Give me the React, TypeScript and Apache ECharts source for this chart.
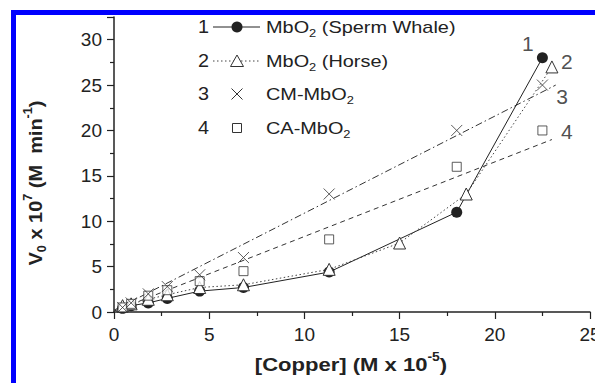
import React, { useEffect, useRef } from "react";
import * as echarts from "echarts";

// Initial rate of MbO2 oxidation vs. copper concentration
const copperWhale = [0.45, 0.9, 1.8, 2.8, 4.5, 6.8, 11.3, 18, 22.5];
const rateWhale = [0.4, 0.7, 1.0, 1.5, 2.3, 2.7, 4.4, 11, 28];

const copperHorse = [0.45, 0.9, 1.8, 2.8, 4.5, 6.8, 11.3, 15, 18.5, 23];
const rateHorse = [0.7, 0.9, 1.4, 1.9, 2.7, 3.0, 4.7, 7.6, 13, 27];

const copperCM = [0.45, 0.9, 1.8, 2.8, 4.5, 6.8, 11.3, 18, 22.5];
const rateCM = [0.5, 1.0, 2.0, 2.8, 4.1, 6.0, 13, 20, 25];

const copperCA = [0.45, 0.9, 1.8, 2.8, 4.5, 6.8, 11.3, 18, 22.5];
const rateCA = [0.5, 0.9, 1.8, 2.4, 3.4, 4.5, 8, 16, 20];

// straight-line fits for the modified proteins
const fitCMx = [0, 23.2];
const fitCMy = [0.2, 25.0];
const fitCAx = [0, 23];
const fitCAy = [0.1, 19];

// curve numbers placed next to the curve ends (data coordinates)
const tagText = ["1", "2", "3", "4"];
const tagX = [21.74, 23.78, 23.53, 23.79];
const tagY = [29.6, 27.6, 23.7, 19.9];

const xTicks = [0, 5, 10, 15, 20, 25];
const yTicks = [0, 5, 10, 15, 20, 25, 30];
const yTop = 32.5;

const legendNames = [
  "{n|MbO}{s|2}{n| (Sperm Whale)}",
  "{n|MbO}{s|2}{n| (Horse)}",
  "{n|CM-MbO}{s|2}",
  "{n|CA-MbO}{s|2}",
];

const FONT = "'Liberation Sans', Arial, sans-serif";
const INK = "#222";

const zip = (xs: number[], ys: number[]) => xs.map((x, i) => [x, ys[i]]);

const crossPath = "path://M0,0L10,10M10,0L0,10";

function legendGraphics() {
  const rows = [27, 61, 94, 128];
  const out: any[] = [];
  const sx = 237;
  rows.forEach((y, i) => {
    out.push({
      type: "text",
      x: 198,
      y,
      scaleX: 1.1,
      style: {
        text: tagText[i],
        fontFamily: FONT,
        fontSize: 18,
        fill: INK,
        align: "left",
        verticalAlign: "middle",
      },
    });
    out.push({
      type: "text",
      x: 266,
      y,
      scaleX: 1.17,
      style: {
        text: legendNames[i],
        align: "left",
        verticalAlign: "middle",
        fill: INK,
        rich: {
          n: { fontFamily: FONT, fontSize: 17, lineHeight: 24, fill: INK },
          s: {
            fontFamily: FONT,
            fontSize: 11,
            lineHeight: 11,
            verticalAlign: "bottom",
            fill: INK,
          },
        },
      },
    });
  });
  // row 1: solid line with filled circle
  out.push({
    type: "line",
    shape: { x1: 213, y1: rows[0], x2: 260, y2: rows[0] },
    style: { stroke: INK, lineWidth: 1 },
  });
  out.push({
    type: "circle",
    shape: { cx: sx, cy: rows[0], r: 5.5 },
    style: { fill: INK },
  });
  // row 2: dotted line with open triangle
  out.push({
    type: "line",
    shape: { x1: 213, y1: rows[1], x2: 260, y2: rows[1] },
    style: { stroke: "#444", lineWidth: 1, lineDash: [1.5, 2.5] },
  });
  out.push({
    type: "polygon",
    shape: {
      points: [
        [sx, rows[1] - 6],
        [sx - 6.5, rows[1] + 5.5],
        [sx + 6.5, rows[1] + 5.5],
      ],
    },
    style: { fill: "#fff", stroke: "#333", lineWidth: 1 },
  });
  // row 3: cross
  out.push({
    type: "line",
    shape: { x1: sx - 5.5, y1: rows[2] - 5.5, x2: sx + 5.5, y2: rows[2] + 5.5 },
    style: { stroke: "#333", lineWidth: 1 },
  });
  out.push({
    type: "line",
    shape: { x1: sx + 5.5, y1: rows[2] - 5.5, x2: sx - 5.5, y2: rows[2] + 5.5 },
    style: { stroke: "#333", lineWidth: 1 },
  });
  // row 4: open square
  out.push({
    type: "rect",
    shape: { x: sx - 4.5, y: rows[3] - 4.5, width: 9, height: 9 },
    style: { fill: "#fff", stroke: "#333", lineWidth: 1 },
  });
  return out;
}

function titleGraphics() {
  const richBold = {
    b: { fontFamily: FONT, fontWeight: "bold", fontSize: 19, lineHeight: 26, fill: INK },
    bs: {
      fontFamily: FONT,
      fontWeight: "bold",
      fontSize: 12,
      lineHeight: 12,
      verticalAlign: "bottom",
      fill: INK,
    },
    bp: {
      fontFamily: FONT,
      fontWeight: "bold",
      fontSize: 12,
      lineHeight: 12,
      verticalAlign: "top",
      fill: INK,
    },
  };
  return [
    {
      type: "text",
      x: 351,
      y: 364,
      scaleX: 1.16,
      style: {
        text: "{b|[Copper] (M x 10}{bp|-5}{b|)}",
        align: "center",
        verticalAlign: "middle",
        rich: richBold,
      },
    },
    {
      type: "text",
      x: 35,
      y: 183,
      rotation: Math.PI / 2,
      scaleX: 1.05,
      style: {
        text: "{b|V}{bs|0}{b| x 10}{bp|7}{b| (M  min}{bp|-1}{b|)}",
        align: "center",
        verticalAlign: "middle",
        rich: richBold,
      },
    },
  ];
}

function frameGraphics() {
  return [
    { type: "rect", shape: { x: 11, y: 10, width: 600, height: 5 }, style: { fill: "#0000ff" } },
    { type: "rect", shape: { x: 11, y: 10, width: 5, height: 400 }, style: { fill: "#0000ff" } },
  ];
}

const axisCommon = {
  axisLine: { show: true, lineStyle: { color: INK, width: 1.5 } },
  axisTick: { show: true, inside: false, length: 7, lineStyle: { color: INK, width: 1.2 } },
  minorTick: { show: true, splitNumber: 2, length: 4, lineStyle: { color: INK, width: 1.2 } },
  splitLine: { show: false },
};

export default function App() {
  const ref = useRef<HTMLDivElement>(null);

  useEffect(() => {
    if (!ref.current) return;
    const chart = echarts.init(ref.current, null, { renderer: "svg" });
    chart.setOption({
      animation: false,
      backgroundColor: "#fff",
      grid: {
        left: 114,
        right: 5,
        top: 17,
        bottom: 71,
        containLabel: false,
        outerBoundsMode: "none",
      },
      xAxis: {
        type: "value",
        min: xTicks[0],
        max: xTicks[xTicks.length - 1],
        interval: xTicks[1] - xTicks[0],
        ...axisCommon,
        axisLabel: {
          margin: 13,
          fontFamily: FONT,
          fontSize: 19,
          color: INK,
          showMaxLabel: true,
          hideOverlap: false,
        },
      },
      yAxis: {
        type: "value",
        min: yTicks[0],
        max: yTop,
        interval: yTicks[1] - yTicks[0],
        ...axisCommon,
        axisLabel: {
          margin: 12,
          fontFamily: FONT,
          fontSize: 19,
          color: INK,
          formatter: (v: number) => (yTicks.includes(v) ? String(v) : ""),
        },
      },
      series: [
        {
          name: "CA-MbO2 fit",
          type: "line",
          data: zip(fitCAx, fitCAy),
          symbol: "none",
          lineStyle: { color: "#333", width: 1, type: [5, 4] },
          z: 1,
        },
        {
          name: "CM-MbO2 fit",
          type: "line",
          data: zip(fitCMx, fitCMy),
          symbol: "none",
          lineStyle: { color: "#333", width: 1, type: [7, 3, 1.5, 3] },
          z: 1,
        },
        {
          name: "MbO2 (Sperm Whale)",
          type: "line",
          data: zip(copperWhale, rateWhale),
          symbol: "circle",
          symbolSize: 11,
          itemStyle: { color: INK },
          lineStyle: { color: INK, width: 1 },
          z: 2,
        },
        {
          name: "MbO2 (Horse)",
          type: "line",
          data: zip(copperHorse, rateHorse),
          symbol: "triangle",
          symbolSize: 12,
          itemStyle: { color: "#fff", borderColor: "#333", borderWidth: 1 },
          lineStyle: { color: "#444", width: 1, type: [1.5, 2.5] },
          z: 3,
        },
        {
          name: "CA-MbO2",
          type: "scatter",
          data: zip(copperCA, rateCA),
          symbol: "rect",
          symbolSize: 9,
          itemStyle: { color: "#fff", borderColor: "#333", borderWidth: 1 },
          z: 4,
        },
        {
          name: "CM-MbO2",
          type: "scatter",
          data: zip(copperCM, rateCM),
          symbol: crossPath,
          symbolSize: 11,
          itemStyle: { color: "none", borderColor: "#333", borderWidth: 1 },
          z: 5,
        },
        {
          name: "curve tags",
          type: "scatter",
          data: tagX.map((x, i) => ({ value: [x, tagY[i]], name: tagText[i] })),
          symbolSize: 1,
          itemStyle: { color: "transparent" },
          label: {
            show: true,
            position: "inside",
            formatter: (p: any) => p.name,
            fontFamily: FONT,
            fontSize: 21,
            color: INK,
          },
          silent: true,
          z: 6,
        },
      ],
      graphic: [...frameGraphics(), ...legendGraphics(), ...titleGraphics()],
    });
    return () => chart.dispose();
  }, []);

  return (
    <div
      ref={ref}
      style={{ position: "absolute", left: 0, top: 0, width: 595, height: 383 }}
    />
  );
}
